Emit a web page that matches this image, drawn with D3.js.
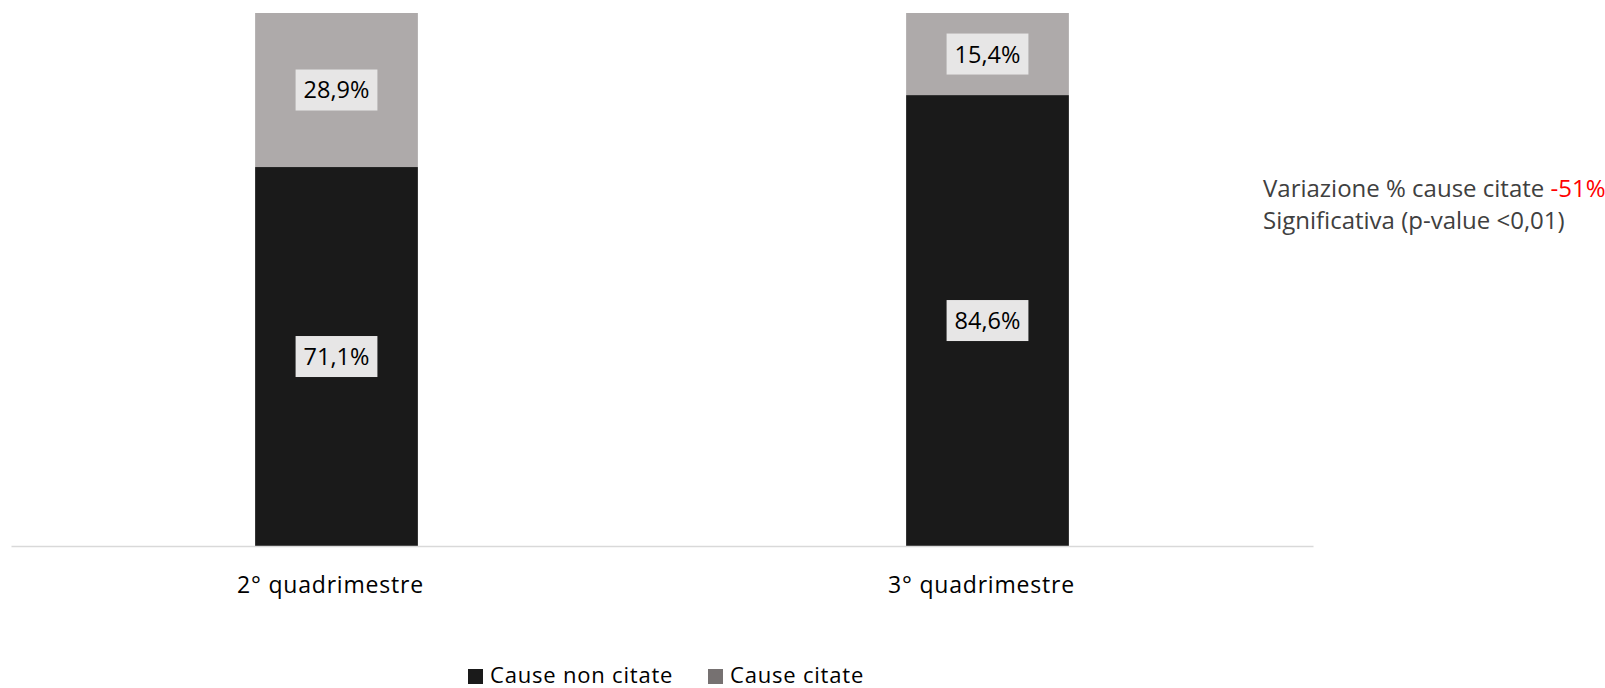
<!DOCTYPE html>
<html>
<head>
<meta charset="utf-8">
<script src="https://cdn.jsdelivr.net/npm/d3@7"></script>
<style>
  body { margin: 0; background: #fff; }
  svg { display: block; font-family: "Open Sans", "Noto Sans", sans-serif; }
</style>
</head>
<body>
<div id="chart"></div>
<script>
const categories = ['2° quadrimestre', '3° quadrimestre'];
const seriesNames = ['Cause non citate', 'Cause citate'];
const causeNonCitate = [71.1, 84.6];
const causeCitate = [28.9, 15.4];
const noteLines = ['Variazione % cause citate ', 'Significativa (p-value <0,01)'];
const noteValue = '-51%';

const width = 1605, height = 688;
const margin = { top: 13, right: 292, bottom: 142, left: 11 };
const colors = ['#1a1a1a', '#aeaaaa'];
const legendColors = ['#1a1a1a', '#767171'];

const it = d3.formatLocale({ decimal: ',', thousands: '.', grouping: [3], currency: ['', '€'] });
const pct = v => it.format('.1f')(v) + '%';

const rows = categories.map((c, i) => ({
  cat: c,
  [seriesNames[0]]: causeNonCitate[i],
  [seriesNames[1]]: causeCitate[i]
}));
const stacked = d3.stack().keys(seriesNames)(rows);

const svg = d3.select('#chart').append('svg')
  .attr('width', width)
  .attr('height', height);

const x = d3.scaleBand()
  .domain(categories)
  .range([margin.left, width - margin.right])
  .paddingInner(0.75)
  .paddingOuter(0.375);

const y = d3.scaleLinear()
  .domain([0, 100])
  .range([height - margin.bottom, margin.top]);

// bars
const layers = svg.selectAll('.layer')
  .data(stacked)
  .enter().append('g')
  .attr('class', 'layer')
  .attr('fill', (d, i) => colors[i]);

layers.selectAll('rect')
  .data(d => d)
  .enter().append('rect')
  .attr('x', d => x(d.data.cat))
  .attr('y', d => y(d[1]))
  .attr('width', x.bandwidth())
  .attr('height', d => y(d[0]) - y(d[1]));

// axis line
const xAxis = svg.append('g')
  .attr('transform', `translate(0,${y(0)})`)
  .call(d3.axisBottom(x).tickSize(0).tickPadding(31));
xAxis.select('.domain').attr('stroke', '#d9d9d9').attr('stroke-width', 1.5);
xAxis.selectAll('text')
  .attr('font-size', 23)
  .attr('letter-spacing', 0.8)
  .attr('font-family', '"Open Sans", "Noto Sans", sans-serif')
  .attr('fill', '#000')
  .attr('dx', -6);

// data labels with boxes
layers.each(function(series) {
  const g = d3.select(this);
  series.forEach(d => {
    const cx = x(d.data.cat) + x.bandwidth() / 2;
    const cy = (y(d[0]) + y(d[1])) / 2;
    const lab = g.append('g');
    const t = lab.append('text')
      .attr('x', cx)
      .attr('y', cy)
      .attr('dy', '0.36em')
      .attr('text-anchor', 'middle')
      .attr('font-size', 23.5)
      .attr('fill', '#000')
      .text(pct(d[1] - d[0]));
    const bb = t.node().getBBox();
    lab.insert('rect', 'text')
      .attr('x', cx - bb.width / 2 - 8)
      .attr('y', cy - 20.5)
      .attr('width', bb.width + 16)
      .attr('height', 41)
      .attr('fill', '#e7e6e6');
  });
});

// note
const note = svg.append('text')
  .attr('x', 1263)
  .attr('y', 197)
  .attr('font-size', 24)
  .attr('fill', '#404040');
note.append('tspan').text(noteLines[0]);
note.append('tspan').attr('fill', '#ff0000').text(noteValue);
svg.append('text')
  .attr('x', 1263)
  .attr('y', 229)
  .attr('font-size', 24)
  .attr('fill', '#404040')
  .text(noteLines[1]);

// legend
const legendX = [468, 708];
const legend = svg.selectAll('.legend')
  .data(seriesNames)
  .enter().append('g')
  .attr('class', 'legend')
  .attr('transform', (d, i) => `translate(${legendX[i]},669)`);
legend.append('rect')
  .attr('width', 15)
  .attr('height', 15)
  .attr('fill', (d, i) => legendColors[i]);
legend.append('text')
  .attr('x', 22)
  .attr('y', 14)
  .attr('font-size', 22)
  .attr('letter-spacing', 0.8)
  .attr('fill', '#000')
  .text(d => d);
</script>
</body>
</html>
